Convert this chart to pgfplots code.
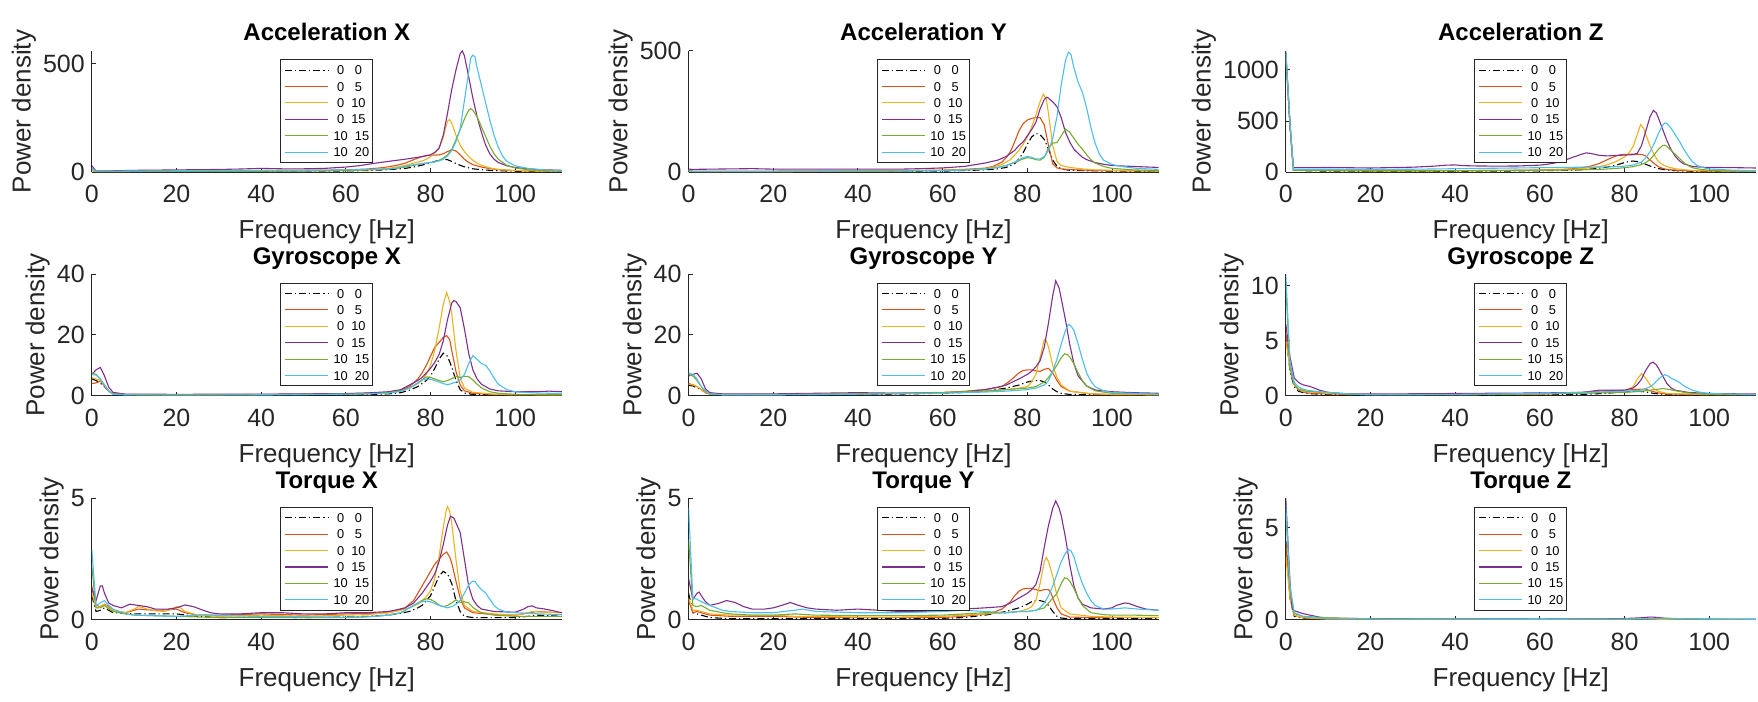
\documentclass[border=0pt]{standalone}
\usepackage{fontspec}
\setmainfont{Liberation Sans}
\usepackage{pgfplots}
\pgfplotsset{compat=1.18}
\definecolor{c1}{rgb}{0.850,0.325,0.098}
\definecolor{c2}{rgb}{0.929,0.694,0.125}
\definecolor{c3}{rgb}{0.494,0.184,0.556}
\definecolor{c4}{rgb}{0.466,0.674,0.188}
\definecolor{c5}{rgb}{0.301,0.745,0.933}
\tikzset{
  s0/.style={black, dash pattern=on 3.5pt off 1.5pt on 0.6pt off 1.5pt},
  s1/.style={c1}, s2/.style={c2}, s3/.style={c3}, s4/.style={c4}, s5/.style={c5}}
\pgfplotsset{
 psd/.style={
  scale only axis, width=235pt, height=60.75pt,
  xmin=0, xmax=111, ymin=0,
  xtick={0,20,40,60,80,100},
  axis x line*=bottom, axis y line*=left,
  axis line style={black!85, line width=0.5pt, -},
  tick align=inside, major tick length=2pt,
  tick style={black!85, line width=0.5pt},
  tick label style={font=\fontsize{12.5}{14}\selectfont, text=black!85},
  xticklabel style={yshift=-3pt},
  /pgf/number format/assume math mode=true,
  /pgf/number format/set thousands separator={},
  xlabel={Frequency [Hz]}, ylabel={Power density},
  label style={font=\fontsize{13}{15}\selectfont, text=black!85},
  xlabel style={at={(axis description cs:0.5,0)}, anchor=north, yshift=-23.6pt, inner sep=0pt},
  ylabel style={inner sep=0pt},
  title style={at={(axis description cs:0.5,1)}, anchor=base, yshift=-1pt,
    font=\bfseries\fontsize{12}{14}\selectfont, inner sep=0pt},
  legend style={at={(axis description cs:0.5,1)}, anchor=north, yshift=-4.2pt,
    draw=black!85, line width=0.5pt, fill=white,
    font=\fontsize{6.4}{7.5}\selectfont,
    inner xsep=1.85pt, inner ysep=2.9pt, row sep=3.6pt,
    nodes={inner sep=0pt, text height=4.6pt, text depth=0pt, anchor=west},
    /tikz/every odd column/.append style={column sep=2.5pt}},
  legend cell align=left,
  legend image code/.code={\draw[#1] (0pt,0pt) -- (21.5pt,0pt);},
  every axis plot/.append style={line width=0.55pt},
 }
}
\newcommand{\psdlegend}{\legend{{\ 0\ \ \ 0},{\ 0\ \ \ 5},{\ 0\ \ 10},{\ 0\ \ 15},{10\ \ 15},{10\ \ 20}}}
\begin{document}
\begin{tikzpicture}
\useasboundingbox (0,0) rectangle (879pt,351pt);
% ---------------- Acceleration X
\begin{axis}[psd, at={(45.9pt,264.85pt)}, anchor=south west, ymax=558, ytick={0,500}, title={Acceleration X}]
\addplot[s0] coordinates {(0,10)(1,3)(3,3)(10,4)(20,4)(30,4)(40,5)(50,5)(60,6)(65,8)(70,12)(72,15)(74,18)(76,24)(78,33)(80,43)(81,50)(82,55)(83,60)(84,58)(85,50)(86,40)(87,32)(88,25)(90,16)(92,12)(94,9)(96,7)(100,5)(105,4)(111,3)};
\addplot[s1] coordinates {(0,12)(1,4)(5,5)(10,6)(20,6)(30,7)(40,8)(50,9)(60,11)(65,15)(68,20)(70,25)(72,32)(74,42)(76,58)(78,72)(79,77)(80,79)(81,79)(82,80)(83,85)(84,95)(85,104)(86,98)(87,80)(88,60)(89,45)(90,35)(92,24)(94,17)(96,12)(100,8)(105,6)(111,5)};
\addplot[s2] coordinates {(0,10)(1,3)(10,4)(20,4)(30,5)(40,5)(50,6)(60,8)(65,11)(70,18)(72,24)(74,32)(76,42)(78,52)(79,60)(80,72)(81,88)(82,110)(83,160)(83.5,200)(84,235)(84.5,242)(85,225)(86,170)(87,125)(88,95)(89,72)(90,55)(91,42)(92,32)(94,20)(96,13)(100,8)(105,6)(111,5)};
\addplot[s3] coordinates {(0,30)(1,6)(3,6)(10,9)(20,11)(30,13)(35,15)(40,18)(45,16)(50,16)(55,18)(60,24)(63,30)(67,42)(70,50)(74,60)(78,72)(80,80)(81,92)(82,110)(83,170)(84,270)(85,380)(86,470)(87,545)(87.5,558)(88,535)(89,440)(90,340)(91,255)(92,185)(93,125)(94,85)(95,60)(96,45)(98,30)(100,22)(103,16)(106,12)(111,9)};
\addplot[s4] coordinates {(0,15)(1,4)(10,4)(20,4)(30,5)(40,5)(50,6)(60,8)(65,11)(70,15)(72,18)(74,24)(76,32)(78,40)(80,45)(81,48)(82,55)(83,65)(84,80)(85,105)(86,150)(87,195)(88,245)(89,285)(89.5,292)(90,285)(91,255)(92,210)(93,165)(94,120)(95,85)(96,60)(98,32)(100,20)(103,12)(106,9)(111,6)};
\addplot[s5] coordinates {(0,18)(1,5)(10,6)(20,7)(30,8)(40,9)(50,9)(60,11)(65,13)(70,15)(72,20)(74,28)(76,35)(78,40)(80,45)(81,48)(82,52)(83,60)(84,75)(85,100)(86,140)(87,200)(88,330)(89,460)(89.5,525)(90,538)(90.5,530)(91,480)(92,400)(93,320)(94,240)(95,170)(96,115)(97,75)(98,50)(100,30)(103,18)(106,12)(111,8)};
\psdlegend
\end{axis}
% ---------------- Acceleration Y
\begin{axis}[psd, at={(344.3pt,264.85pt)}, anchor=south west, ymax=500, ytick={0,500}, title={Acceleration Y}]
\addplot[s0] coordinates {(0,5)(1,3)(10,3)(20,3)(30,3)(40,4)(50,4)(60,5)(65,7)(70,10)(73,14)(75,20)(77,35)(78,55)(79,80)(80,115)(81,145)(82,160)(83,155)(84,135)(85,95)(86,50)(87,25)(88,14)(90,8)(95,6)(100,5)(111,4)};
\addplot[s1] coordinates {(0,10)(1,5)(10,5)(20,5)(30,6)(40,6)(50,7)(60,9)(65,12)(70,17)(72,25)(74,42)(75,60)(76,85)(77,125)(78,170)(79,200)(80,215)(81,222)(82,225)(83,225)(84,195)(85,110)(86,35)(87,18)(88,14)(90,11)(95,8)(100,7)(111,5)};
\addplot[s2] coordinates {(0,8)(1,4)(10,4)(20,4)(30,5)(40,5)(50,6)(60,8)(65,11)(70,15)(72,22)(74,32)(76,52)(78,90)(79,115)(80,145)(81,185)(82,235)(83,290)(83.8,321)(84.5,300)(85,240)(86,110)(87,45)(88,28)(90,20)(93,14)(96,10)(100,8)(111,5)};
\addplot[s3] coordinates {(0,13)(1,12)(10,14)(15,15)(20,13)(30,13)(40,13)(50,13)(55,15)(60,18)(65,24)(70,38)(73,50)(75,65)(77,90)(78,110)(79,125)(80,150)(81,175)(82,205)(83,260)(84,300)(84.6,309)(85,305)(86,290)(87,270)(88,225)(89,165)(90,125)(91,95)(92,78)(93,62)(94,52)(96,40)(98,33)(100,28)(105,24)(111,20)};
\addplot[s4] coordinates {(0,6)(1,3)(10,3)(20,3)(30,4)(40,4)(50,5)(60,7)(65,10)(70,14)(73,20)(75,28)(77,40)(78,48)(79,55)(80,60)(81,58)(82,52)(83,50)(84,62)(85,100)(86,120)(87,122)(88,150)(89,178)(90,165)(91,140)(92,115)(93,95)(94,72)(95,52)(96,38)(98,24)(100,16)(105,10)(111,7)};
\addplot[s5] coordinates {(0,5)(1,3)(10,3)(20,3)(30,4)(40,5)(50,5)(60,7)(65,9)(70,13)(73,20)(75,28)(77,42)(78,52)(79,60)(80,65)(81,62)(82,55)(83,55)(84,65)(85,90)(86,140)(87,230)(88,360)(89,460)(89.7,494)(90.3,485)(91,430)(92,370)(93,330)(94,265)(95,185)(96,120)(97,75)(98,50)(100,32)(103,22)(106,16)(111,12)};
\psdlegend
\end{axis}
% ---------------- Acceleration Z
\begin{axis}[psd, at={(642.9pt,264.85pt)}, anchor=south west, ymax=1187, ytick={0,500,1000}, title={Acceleration Z}]
\addplot[s0] coordinates {(0,1150)(1,450)(1.8,20)(5,15)(10,12)(20,10)(30,10)(40,10)(50,12)(60,15)(65,18)(70,25)(73,35)(75,45)(77,60)(78,70)(80,95)(81,105)(82,110)(83,105)(84,92)(85,78)(86,62)(87,48)(88,36)(90,22)(93,14)(96,10)(100,8)(111,6)};
\addplot[s1] coordinates {(0,1160)(1,450)(1.8,25)(5,20)(10,18)(20,15)(30,15)(40,16)(50,18)(60,22)(65,28)(68,35)(70,45)(72,60)(74,85)(76,125)(78,160)(79,170)(80,175)(82,177)(84,175)(85,160)(86,120)(87,85)(88,55)(89,38)(90,28)(93,18)(96,14)(100,12)(111,10)};
\addplot[s2] coordinates {(0,1150)(1,450)(1.8,25)(5,20)(10,18)(20,15)(30,14)(40,14)(50,16)(60,20)(65,25)(70,35)(74,55)(76,75)(78,105)(80,150)(81,190)(82,250)(83,370)(83.8,466)(84.5,430)(85,370)(86,260)(87,170)(88,105)(89,75)(90,55)(92,35)(94,25)(96,18)(100,14)(111,10)};
\addplot[s3] coordinates {(0,1170)(1,460)(1.8,45)(5,45)(10,47)(20,42)(30,50)(35,60)(38,70)(40,72)(42,65)(45,62)(50,60)(55,62)(60,70)(62,80)(64,95)(66,120)(68,150)(70,178)(71,190)(72,184)(74,166)(76,160)(78,165)(80,168)(82,172)(83,185)(84,260)(85,400)(86,540)(86.8,605)(87.5,580)(88,530)(89,420)(90,310)(91,220)(92,155)(93,110)(94,82)(96,58)(98,50)(100,47)(105,46)(111,42)};
\addplot[s4] coordinates {(0,1180)(1,470)(1.8,20)(5,18)(10,16)(20,15)(30,15)(40,16)(50,18)(60,20)(65,22)(70,25)(75,30)(78,38)(80,45)(82,55)(84,75)(85,95)(86,125)(87,170)(88,225)(89,262)(89.5,265)(90,252)(91,215)(92,175)(93,135)(94,95)(95,65)(96,45)(98,28)(100,20)(105,14)(111,11)};
\addplot[s5] coordinates {(0,1187)(1,480)(1.8,30)(5,30)(10,30)(20,28)(30,30)(40,35)(50,40)(60,45)(65,47)(70,50)(75,52)(78,55)(80,60)(82,70)(84,100)(85,140)(86,200)(87,280)(88,380)(89,460)(89.5,482)(90,478)(91,430)(92,365)(93,300)(94,225)(95,160)(96,105)(97,70)(98,50)(100,32)(105,22)(111,15)};
\psdlegend
\end{axis}
% ---------------- Gyroscope X
\begin{axis}[psd, at={(45.9pt,153.15pt)}, anchor=south west, ymax=40, ytick={0,20,40}, title={Gyroscope X}]
\addplot[s0] coordinates {(0,5.5)(1,5)(2,4.2)(3,3)(4,1.5)(5,0.6)(8,0.3)(20,0.2)(40,0.2)(60,0.3)(65,0.4)(70,0.6)(73,1)(75,1.8)(77,3)(78,4)(79,5)(80,6.5)(81,9)(82,12)(83,14)(84,13)(85,9.5)(86,5)(87,2)(88,0.9)(90,0.4)(95,0.25)(100,0.2)(111,0.2)};
\addplot[s1] coordinates {(0,4)(1,4.2)(2,4.8)(3,3.2)(4,1.5)(5,0.6)(8,0.35)(20,0.3)(40,0.35)(60,0.6)(65,0.8)(70,1)(73,1.8)(75,3)(77,5.5)(78,7.5)(79,10)(80,13)(81,16)(82,17.5)(83,19.2)(83.8,19.8)(84.5,18.5)(85,15)(86,8)(87,3.5)(88,1.6)(90,0.8)(95,0.4)(100,0.3)(111,0.3)};
\addplot[s2] coordinates {(0,6)(1,5.5)(2,5)(3,3.5)(4,1.5)(5,0.6)(8,0.4)(20,0.3)(40,0.4)(60,0.7)(65,0.8)(70,1)(73,1.5)(75,2.5)(77,4)(78,5)(79,7)(80,10)(81,15)(82,22)(83,30)(83.8,34)(84.5,31)(85,27)(86,15)(87,6)(88,2.5)(90,1.1)(95,0.5)(100,0.35)(111,0.3)};
\addplot[s3] coordinates {(0,7)(1,8.5)(2,9.3)(3,6.5)(4,2.8)(5,1.1)(8,0.5)(20,0.45)(40,0.5)(60,0.7)(65,0.9)(70,1.3)(73,2)(75,3.5)(77,5)(78,6)(79,7.5)(80,9)(81,11)(82,13.5)(83,18)(84,25)(85,30.5)(85.5,31.3)(86,31)(87,29)(88,22)(89,14)(90,8.5)(91,5.5)(92,3.8)(94,2.2)(96,1.6)(100,1.3)(105,1.3)(108,1.5)(111,1.3)};
\addplot[s4] coordinates {(0,7.5)(1,7)(2,5.5)(3,3.5)(4,1.5)(5,0.6)(8,0.35)(20,0.25)(40,0.3)(60,0.5)(65,0.6)(70,1)(73,1.6)(75,2.5)(77,4.2)(78,5.2)(79,6.2)(80,6)(81,5.5)(82,5)(83,4.6)(84,5)(85,5.6)(86,6.4)(87,6)(88,6.4)(89,6.3)(90,5.2)(91,3.8)(92,2.6)(94,1.3)(96,0.8)(100,0.45)(111,0.35)};
\addplot[s5] coordinates {(0,7)(1,6.8)(2,5.5)(3,3.5)(4,1.5)(5,0.5)(8,0.3)(20,0.25)(40,0.3)(60,0.5)(65,0.6)(70,0.8)(73,1.4)(75,2.5)(77,4.2)(78,5.2)(79,5.5)(80,5.4)(81,5)(82,4.5)(83,4)(84,3.6)(85,4)(86,4.5)(87,5.2)(88,7)(89,10.5)(90,13.2)(91,12)(92,10.6)(93,10)(94,8.2)(95,5.8)(96,3.8)(98,2)(100,1.3)(105,0.9)(111,0.7)};
\psdlegend
\end{axis}
% ---------------- Gyroscope Y
\begin{axis}[psd, at={(344.3pt,153.15pt)}, anchor=south west, ymax=40, ytick={0,20,40}, title={Gyroscope Y}]
\addplot[s0] coordinates {(0,3.5)(1,3.2)(2,2.6)(3,2)(4,1)(5,0.5)(8,0.2)(20,0.2)(40,0.3)(60,0.8)(65,1.1)(70,1.5)(75,2.5)(78,3.5)(80,4.5)(81,4.8)(82,5)(83,5)(84,4.5)(85,3.5)(86,2.2)(87,1.3)(88,0.8)(90,0.4)(100,0.3)(111,0.3)};
\addplot[s1] coordinates {(0,4)(1,3.6)(2,3)(3,2)(4,1)(5,0.5)(8,0.3)(20,0.3)(40,0.5)(60,1)(65,1.4)(70,2)(74,3)(76,5)(78,7.5)(79,8.3)(80,8.5)(81,8.5)(82,8.2)(83,8)(84,8.7)(85,9)(86,7.5)(87,5)(88,3)(90,1.5)(95,0.6)(100,0.4)(111,0.3)};
\addplot[s2] coordinates {(0,3.8)(1,3.5)(2,3)(3,2)(4,1)(5,0.5)(8,0.4)(20,0.4)(40,0.6)(60,1.1)(65,1.4)(70,1.6)(75,2)(78,2.5)(80,3)(81,4.5)(82,7)(83,12.5)(84,18.5)(84.5,18)(85,16)(86,10)(87,6)(88,3.5)(90,1.5)(95,0.6)(100,0.4)(111,0.3)};
\addplot[s3] coordinates {(0,6.5)(1,7)(2,7.4)(3,5.5)(4,2.2)(5,1)(8,0.6)(20,0.6)(30,0.8)(40,1)(50,0.8)(60,1)(65,1.3)(70,2)(73,2.8)(75,3.5)(78,5.5)(80,7)(81,8)(82,9.5)(83,11.5)(84,16)(85,24)(86,33)(86.7,37.8)(87.5,35.5)(88,32)(89,25)(90,17)(91,10.5)(92,6.5)(94,3.2)(96,1.9)(100,1.3)(105,1)(111,0.8)};
\addplot[s4] coordinates {(0,7)(1,6.5)(2,5)(3,3)(4,1.5)(5,0.6)(8,0.4)(20,0.4)(40,0.6)(60,1)(65,1.3)(70,1.5)(75,2)(80,2.5)(82,3)(84,4.5)(85,6)(86,8)(87,10)(88,12.5)(88.8,13.8)(89.5,13.5)(90,12.8)(91,10.5)(92,7.5)(93,5)(94,3.2)(96,1.6)(100,0.8)(111,0.5)};
\addplot[s5] coordinates {(0,7.5)(1,7)(2,5.5)(3,3)(4,1.5)(5,0.6)(8,0.3)(20,0.3)(40,0.5)(60,0.8)(65,1)(70,1.2)(75,1.5)(80,2)(82,2.5)(84,3.5)(85,5)(86,8)(87,12)(88,17)(89,21.5)(89.7,23.5)(90.3,23)(91,21.5)(92,17)(93,12)(94,7.5)(95,4.8)(96,3)(98,1.6)(100,1)(111,0.5)};
\psdlegend
\end{axis}
% ---------------- Gyroscope Z
\begin{axis}[psd, at={(642.9pt,153.15pt)}, anchor=south west, ymax=11.04, ytick={0,5,10}, title={Gyroscope Z}]
\addplot[s0] coordinates {(0,5.5)(1,2.2)(2,0.8)(3,0.4)(5,0.2)(10,0.1)(20,0.05)(40,0.05)(60,0.08)(70,0.12)(75,0.2)(80,0.35)(83,0.4)(85,0.35)(87,0.2)(90,0.1)(100,0.05)(111,0.05)};
\addplot[s1] coordinates {(0,5.7)(1,2.5)(2,1)(3,0.5)(5,0.25)(10,0.15)(20,0.1)(40,0.1)(60,0.15)(70,0.3)(75,0.45)(80,0.5)(82,0.55)(84,0.6)(85,0.6)(86,0.45)(88,0.25)(90,0.15)(100,0.1)(111,0.1)};
\addplot[s2] coordinates {(0,5)(1,2.5)(2,1)(3,0.6)(4,0.4)(10,0.2)(20,0.1)(40,0.1)(60,0.15)(70,0.25)(78,0.35)(80,0.4)(82,0.8)(83,1.5)(84,2)(85,1.6)(86,1)(87,0.6)(88,0.4)(90,0.2)(100,0.1)(111,0.1)};
\addplot[s3] coordinates {(0,6.5)(1,3.5)(2,1.6)(3,1.2)(4,1)(5,0.9)(6,0.8)(8,0.5)(10,0.3)(15,0.15)(20,0.15)(40,0.2)(60,0.25)(70,0.3)(72,0.4)(74,0.5)(78,0.5)(80,0.5)(82,0.7)(83,1)(84,1.5)(85,2.3)(86,2.9)(86.7,3.05)(87.5,2.8)(88,2.5)(89,1.8)(90,1.1)(91,0.7)(92,0.5)(95,0.3)(100,0.2)(111,0.15)};
\addplot[s4] coordinates {(0,10)(1,2.5)(2,1)(3,0.6)(4,0.5)(5,0.4)(10,0.3)(15,0.15)(20,0.1)(40,0.1)(60,0.15)(80,0.3)(84,0.4)(86,0.5)(88,0.6)(89,0.65)(90,0.6)(92,0.45)(95,0.25)(100,0.12)(111,0.1)};
\addplot[s5] coordinates {(0,11)(1,3)(2,1.2)(3,0.8)(4,0.6)(5,0.5)(8,0.35)(10,0.3)(15,0.15)(20,0.1)(40,0.12)(60,0.2)(70,0.3)(80,0.4)(84,0.5)(86,0.8)(87,1.1)(88,1.5)(89,1.8)(89.5,1.9)(90,1.85)(91,1.6)(92,1.4)(93,1.2)(94,0.9)(96,0.5)(98,0.3)(100,0.2)(111,0.1)};
\psdlegend
\end{axis}
% ---------------- Torque X
\begin{axis}[psd, at={(45.9pt,41pt)}, anchor=south west, ymax=5, ytick={0,5}, title={Torque X}]
\addplot[s0] coordinates {(0,1)(1,0.35)(2,0.4)(3,0.5)(4,0.4)(5,0.3)(10,0.25)(15,0.25)(20,0.25)(25,0.15)(30,0.1)(40,0.12)(50,0.1)(60,0.12)(65,0.15)(70,0.2)(73,0.28)(75,0.35)(77,0.5)(78,0.6)(79,0.8)(80,1.0)(81,1.4)(82,1.8)(83,2.0)(84,1.9)(85,1.5)(86,0.8)(87,0.35)(88,0.15)(90,0.1)(100,0.1)(103,0.15)(105,0.2)(108,0.18)(111,0.15)};
\addplot[s1] coordinates {(0,1.4)(1,0.6)(2,0.55)(3,0.65)(4,0.55)(5,0.4)(8,0.3)(11,0.45)(13,0.42)(15,0.4)(18,0.42)(20,0.45)(22,0.3)(25,0.2)(30,0.2)(40,0.25)(50,0.2)(60,0.25)(65,0.27)(70,0.3)(72,0.38)(74,0.5)(76,0.8)(78,1.4)(79,1.7)(80,2.0)(81,2.3)(82,2.5)(83,2.7)(83.8,2.8)(84.5,2.6)(85,2.35)(86,1.6)(87,0.9)(88,0.5)(90,0.3)(95,0.22)(100,0.2)(103,0.28)(105,0.35)(108,0.32)(111,0.3)};
\addplot[s2] coordinates {(0,1.1)(1,0.5)(2,0.55)(3,0.65)(4,0.5)(5,0.4)(8,0.3)(10,0.45)(11,0.55)(12,0.52)(13,0.45)(15,0.38)(17,0.35)(19,0.45)(20,0.55)(21,0.5)(22,0.35)(25,0.2)(30,0.15)(40,0.2)(50,0.15)(60,0.2)(65,0.22)(70,0.3)(73,0.4)(75,0.5)(77,0.65)(78,0.8)(79,0.95)(80,1.2)(81,1.7)(82,2.6)(83,3.8)(83.7,4.5)(84,4.66)(84.5,4.5)(85,4.0)(86,2.5)(87,1.2)(88,0.6)(90,0.35)(95,0.25)(100,0.2)(103,0.3)(104,0.35)(107,0.32)(111,0.3)};
\addplot[s3] coordinates {(0,1.3)(1,0.8)(2,1.4)(2.5,1.4)(3,1.1)(4,0.7)(5,0.6)(7,0.5)(9,0.65)(11,0.6)(13,0.55)(15,0.45)(18,0.45)(20,0.5)(22,0.62)(24,0.55)(26,0.42)(28,0.3)(30,0.25)(35,0.25)(40,0.3)(45,0.3)(50,0.25)(55,0.25)(60,0.3)(65,0.3)(70,0.35)(72,0.42)(74,0.5)(76,0.7)(78,1.1)(80,1.6)(81,1.9)(82,2.4)(83,3.1)(84,3.9)(84.7,4.27)(85.5,4.2)(86,4.0)(87,3.6)(88,2.5)(89,1.4)(90,0.85)(91,0.6)(92,0.45)(95,0.35)(100,0.32)(102,0.45)(103,0.55)(104,0.58)(105,0.5)(107,0.45)(109,0.38)(111,0.3)};
\addplot[s4] coordinates {(0,2.2)(1,0.5)(2,0.5)(3,0.6)(4,0.45)(5,0.35)(8,0.25)(10,0.2)(20,0.15)(30,0.1)(40,0.1)(50,0.1)(60,0.1)(65,0.13)(70,0.2)(73,0.3)(75,0.5)(77,0.7)(78,0.8)(79,0.87)(80,0.85)(81,0.75)(82,0.62)(83,0.55)(84,0.6)(85,0.7)(86,0.83)(87,0.72)(88,0.75)(89,0.7)(90,0.52)(91,0.4)(92,0.3)(95,0.2)(100,0.15)(111,0.15)};
\addplot[s5] coordinates {(0,2.9)(1,0.6)(2,0.7)(3,0.8)(4,0.6)(5,0.45)(8,0.25)(10,0.2)(20,0.15)(25,0.2)(27,0.22)(30,0.18)(40,0.15)(50,0.13)(60,0.12)(65,0.13)(70,0.2)(73,0.3)(75,0.5)(77,0.7)(78,0.75)(79,0.78)(80,0.75)(81,0.68)(82,0.6)(83,0.55)(84,0.5)(85,0.55)(86,0.65)(87,0.8)(88,1.1)(89,1.45)(90,1.6)(90.5,1.58)(91,1.45)(92,1.25)(93,1.12)(94,0.85)(95,0.6)(96,0.45)(98,0.32)(100,0.3)(103,0.28)(106,0.25)(111,0.22)};
\psdlegend
\end{axis}
% ---------------- Torque Y
\begin{axis}[psd, at={(344.3pt,41pt)}, anchor=south west, ymax=5, ytick={0,5}, title={Torque Y}]
\addplot[s0] coordinates {(0,1.1)(1,0.3)(2,0.25)(3,0.2)(5,0.1)(10,0.05)(20,0.05)(30,0.05)(40,0.06)(50,0.06)(60,0.07)(65,0.1)(70,0.2)(75,0.35)(78,0.5)(80,0.65)(81,0.75)(82,0.8)(83,0.8)(84,0.75)(85,0.6)(86,0.35)(87,0.15)(88,0.08)(90,0.05)(100,0.05)(111,0.05)};
\addplot[s1] coordinates {(0,0.8)(1,0.3)(2,0.35)(3,0.3)(5,0.2)(10,0.15)(20,0.15)(30,0.1)(40,0.1)(50,0.1)(60,0.1)(65,0.15)(70,0.25)(72,0.32)(74,0.45)(76,0.75)(77,1.0)(78,1.18)(79,1.28)(80,1.3)(81,1.3)(82,1.25)(83,1.2)(84,1.25)(85,1.25)(85.5,1.15)(86,0.9)(87,0.5)(88,0.25)(90,0.12)(95,0.1)(100,0.1)(111,0.1)};
\addplot[s2] coordinates {(0,0.9)(1,0.4)(2,0.4)(3,0.35)(5,0.25)(10,0.2)(20,0.2)(25,0.15)(30,0.15)(40,0.12)(50,0.12)(60,0.15)(65,0.2)(70,0.25)(75,0.3)(78,0.35)(80,0.45)(81,0.55)(82,0.8)(83,1.5)(84,2.4)(84.5,2.57)(85,2.4)(86,1.8)(87,1.0)(88,0.5)(90,0.25)(95,0.15)(100,0.12)(111,0.1)};
\addplot[s3] coordinates {(0,1.7)(1,0.85)(2,1.1)(2.5,1.15)(3,1.0)(4,0.75)(5,0.6)(7,0.68)(9,0.8)(11,0.72)(13,0.55)(15,0.45)(18,0.45)(20,0.5)(22,0.6)(24,0.72)(26,0.6)(28,0.5)(30,0.45)(35,0.4)(40,0.45)(45,0.4)(50,0.35)(55,0.35)(60,0.4)(65,0.45)(70,0.5)(74,0.55)(76,0.7)(78,0.9)(80,1.1)(81,1.25)(82,1.45)(83,2.0)(84,3.0)(85,3.9)(86,4.6)(86.7,4.9)(87.5,4.6)(88,4.3)(89,3.4)(90,2.3)(91,1.4)(92,0.9)(93,0.65)(95,0.5)(98,0.45)(100,0.5)(101,0.6)(103,0.7)(104,0.68)(106,0.55)(108,0.45)(111,0.4)};
\addplot[s4] coordinates {(0,3.3)(1,0.6)(2,0.55)(3,0.6)(4,0.5)(5,0.4)(8,0.3)(10,0.25)(15,0.2)(20,0.2)(25,0.25)(30,0.2)(40,0.18)(50,0.18)(60,0.2)(65,0.25)(70,0.3)(75,0.3)(78,0.35)(80,0.35)(82,0.4)(84,0.5)(85,0.7)(86,0.9)(87,1.1)(88,1.5)(88.8,1.74)(89.5,1.7)(90,1.6)(91,1.3)(92,0.9)(93,0.6)(95,0.3)(98,0.22)(100,0.2)(105,0.2)(111,0.18)};
\addplot[s5] coordinates {(0,4.6)(1,0.9)(2,0.85)(3,0.75)(5,0.6)(8,0.4)(10,0.35)(15,0.3)(20,0.3)(25,0.4)(27,0.45)(30,0.35)(40,0.3)(50,0.3)(60,0.35)(65,0.4)(70,0.35)(75,0.3)(78,0.35)(80,0.35)(82,0.4)(83,0.5)(84,0.7)(85,1.0)(86,1.4)(87,1.9)(88,2.4)(89,2.75)(89.7,2.9)(90.3,2.85)(91,2.6)(92,2.0)(93,1.5)(94,1.1)(95,0.8)(96,0.6)(98,0.45)(100,0.45)(103,0.5)(106,0.45)(111,0.4)};
\psdlegend
\end{axis}
% ---------------- Torque Z
\begin{axis}[psd, at={(642.9pt,41pt)}, anchor=south west, ymax=6.58, ytick={0,5}, title={Torque Z}]
\addplot[s0] coordinates {(0,4.3)(1,1.2)(2,0.2)(4,0.1)(10,0.04)(30,0.03)(60,0.03)(80,0.04)(84,0.05)(88,0.04)(100,0.02)(111,0.02)};
\addplot[s1] coordinates {(0,4.2)(1,1.3)(2,0.25)(4,0.12)(10,0.05)(30,0.04)(60,0.03)(80,0.05)(84,0.06)(88,0.04)(100,0.02)(111,0.02)};
\addplot[s2] coordinates {(0,3.5)(1,1.1)(2,0.25)(4,0.12)(10,0.05)(30,0.04)(60,0.03)(80,0.05)(84,0.07)(88,0.04)(100,0.02)(111,0.02)};
\addplot[s3] coordinates {(0,6.58)(1,2.0)(1.5,0.6)(2,0.5)(4,0.35)(6,0.25)(8,0.15)(10,0.1)(20,0.07)(40,0.06)(60,0.05)(75,0.06)(80,0.08)(84,0.12)(86,0.16)(88,0.14)(90,0.08)(95,0.05)(100,0.04)(111,0.04)};
\addplot[s4] coordinates {(0,5.8)(1,1.7)(2,0.35)(4,0.2)(10,0.12)(20,0.06)(40,0.05)(60,0.04)(80,0.05)(88,0.08)(95,0.05)(111,0.03)};
\addplot[s5] coordinates {(0,6.2)(1,1.8)(2,0.4)(4,0.2)(8,0.1)(20,0.05)(60,0.04)(80,0.05)(86,0.08)(90,0.1)(95,0.06)(111,0.04)};
\psdlegend
\end{axis}
\end{tikzpicture}
\end{document}
